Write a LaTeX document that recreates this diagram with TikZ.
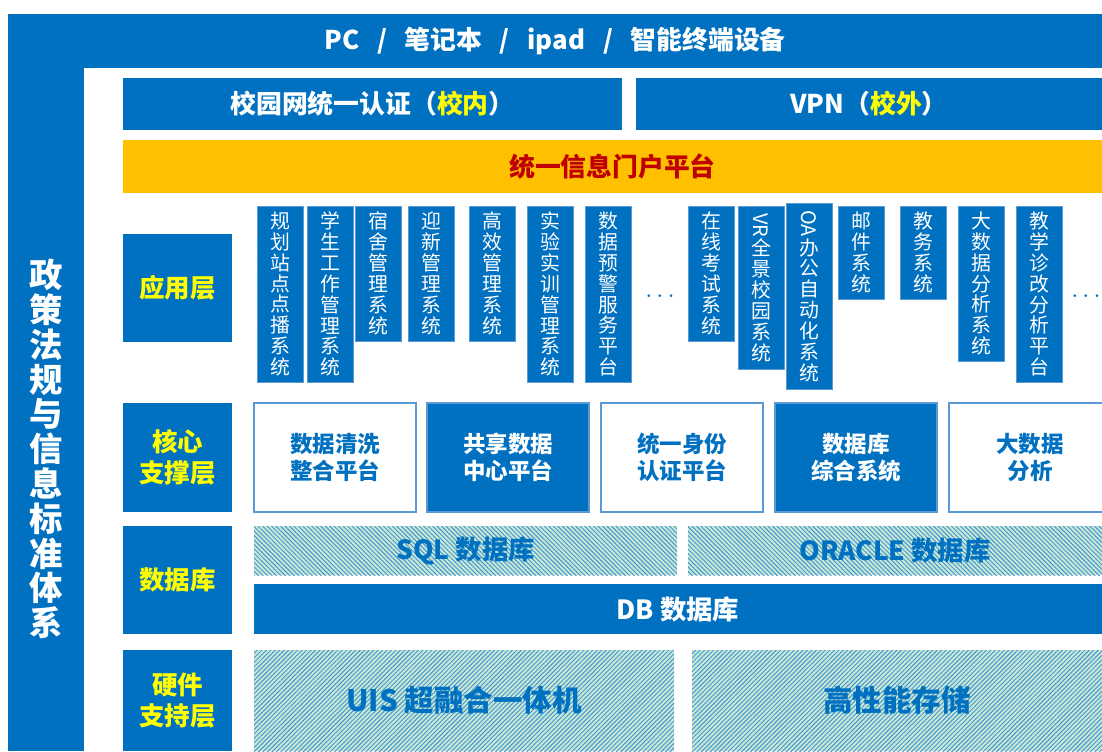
\documentclass[tikz,border=0pt]{standalone}
\usepackage{fontspec}
\setmainfont{Noto Sans CJK SC}
\usetikzlibrary{positioning,patterns.meta}

\definecolor{layerblue}{HTML}{0070C0}
\definecolor{edgeblue}{HTML}{5B9BD5}
\definecolor{portalorange}{HTML}{FFC000}
\definecolor{portalred}{HTML}{C00000}
\definecolor{labelyellow}{HTML}{FFFF00}
\definecolor{hatchbg}{HTML}{C8E8D6}
\definecolor{hatchline}{HTML}{4596CE}

\begin{document}
\begin{tikzpicture}[x=0.02cm,y=-0.02cm,
	box/.style={anchor=north west, inner sep=0pt, outer sep=0pt, align=center},
	bluebox/.style={box, fill=layerblue, text=white, font=\bfseries\fontsize{14.7}{17}\selectfont},
	layer/.style={box, fill=layerblue, text=labelyellow, minimum width=109*\px, font=\bfseries\fontsize{14.5}{17.5}\selectfont},
	appcol/.style={box, fill=layerblue, draw=edgeblue, line width=0.4pt, text=white, minimum width=46*\px, font=\fontsize{11.3}{11.9}\selectfont},
	corebox/.style={box, draw=edgeblue, line width=0.6pt, minimum width=162*\px, minimum height=109*\px, font=\bfseries\fontsize{12.8}{15.3}\selectfont},
	hatch/.style={box, preaction={fill=hatchbg}, pattern color=hatchline, text=layerblue, font=\bfseries\fontsize{15}{17}\selectfont},
	hatchdown/.style={hatch, pattern={Lines[angle=-45,distance=1.8pt,line width=0.55pt]}},
	hatchup/.style={hatch, pattern={Lines[angle=45,distance=1.8pt,line width=0.55pt]}},
	more/.style={text=layerblue, font=\bfseries\Large, inner sep=1pt}
	]
	
	\def \px {0.02cm}
	
	\fill[white] (0,0) rectangle (1102,751);
	\useasboundingbox (0,0) rectangle (1102,751);
	
	% outer frame
	\node[bluebox, minimum width=1094*\px, minimum height=54*\px] (devices) at (8,14) {PC\ \ \ /\ \ \ 笔记本\ \ \ /\ \ \ ipad\ \ \ /\ \ \ 智能终端设备};
	\fill[layerblue] (8,68) rectangle (84,751);
	\node[text=white, align=center, font=\bfseries\fontsize{19}{19.8}\selectfont] (policy) at (46,449) {政\\策\\法\\规\\与\\信\\息\\标\\准\\体\\系};
	
	% access and portal
	\node[bluebox, minimum width=499*\px, minimum height=52*\px] (campus) at (123,78) {校园网统一认证（{\color{labelyellow}校内}）};
	\node[bluebox, minimum width=466*\px, minimum height=52*\px] (vpn) at (636,78) {VPN（{\color{labelyellow}校外}）};
	\node[box, fill=portalorange, text=portalred, minimum width=979*\px, minimum height=53*\px, font=\bfseries\fontsize{14.7}{17}\selectfont] (portal) at (123,140) {统一信息门户平台};
	
	% layer labels
	\foreach \y/\h/\n/\t in {234/108/applayer/应用层, 403/109/corelayer/{核心\\支撑层}, 526/108/dblayer/数据库, 650/101/hwlayer/{硬件\\支持层}}
	{
		\node[layer, minimum height=\h*\px] (\n) at (123,\y) {\t};
	}
	
	% application layer
	\foreach \x/\y/\h/\t [count=\i] in {
		257/206/176/{规\\划\\站\\点\\点\\播\\系\\统},
		307/206/176/{学\\生\\工\\作\\管\\理\\系\\统},
		355/206/135/{宿\\舍\\管\\理\\系\\统},
		408/206/135/{迎\\新\\管\\理\\系\\统},
		469/206/135/{高\\效\\管\\理\\系\\统},
		527/206/176/{实\\验\\实\\训\\管\\理\\系\\统},
		585/206/176/{数\\据\\预\\警\\服\\务\\平\\台},
		688/206/135/{在\\线\\考\\试\\系\\统},
		738/206/163/{\rotatebox{-90}{VR}\\全\\景\\校\\园\\系\\统},
		786/203/186/{\rotatebox{-90}{OA}\\办\\公\\自\\动\\化\\系\\统},
		838/206/93/{邮\\件\\系\\统},
		900/206/93/{教\\务\\系\\统},
		958/206/155/{大\\数\\据\\分\\析\\系\\统},
		1016/206/176/{教\\学\\诊\\改\\分\\析\\平\\台}}
	{
		\node[appcol, minimum height=\h*\px] (app\i) at (\x,\y) {\t};
	}
	\node[more] (moreA) at (660,297) {$\cdots$};
	\node[more] (moreB) at (1086,297) {$\cdots$};
	
	% core support layer
	\foreach \x/\f/\c/\t [count=\i] in {
		254/white/layerblue/{数据清洗\\整合平台},
		427/layerblue/white/{共享数据\\中心平台},
		601/white/layerblue/{统一身份\\认证平台},
		775/layerblue/white/{数据库\\综合系统},
		949/white/layerblue/{大数据\\分析}}
	{
		\node[corebox, fill=\f, text=\c] (core\i) at (\x,403) {\t};
	}
	
	% database layer
	\node[hatchdown, minimum width=423*\px, minimum height=49*\px] (sqldb) at (254,526) {SQL 数据库};
	\node[hatchdown, minimum width=414*\px, minimum height=49*\px] (oracledb) at (688,526) {ORACLE 数据库};
	\node[bluebox, font=\bfseries\fontsize{15}{17}\selectfont, minimum width=848*\px, minimum height=50*\px] (dbbar) at (254,584) {DB 数据库};
	
	% hardware layer
	\node[hatchup, minimum width=420*\px, minimum height=101*\px, font=\bfseries\fontsize{16.8}{19}\selectfont] (uis) at (254,650) {UIS 超融合一体机};
	\node[hatchup, minimum width=410*\px, minimum height=101*\px, font=\bfseries\fontsize{16.8}{19}\selectfont] (storage) at (692,650) {高性能存储};
	
\end{tikzpicture}
\end{document}
